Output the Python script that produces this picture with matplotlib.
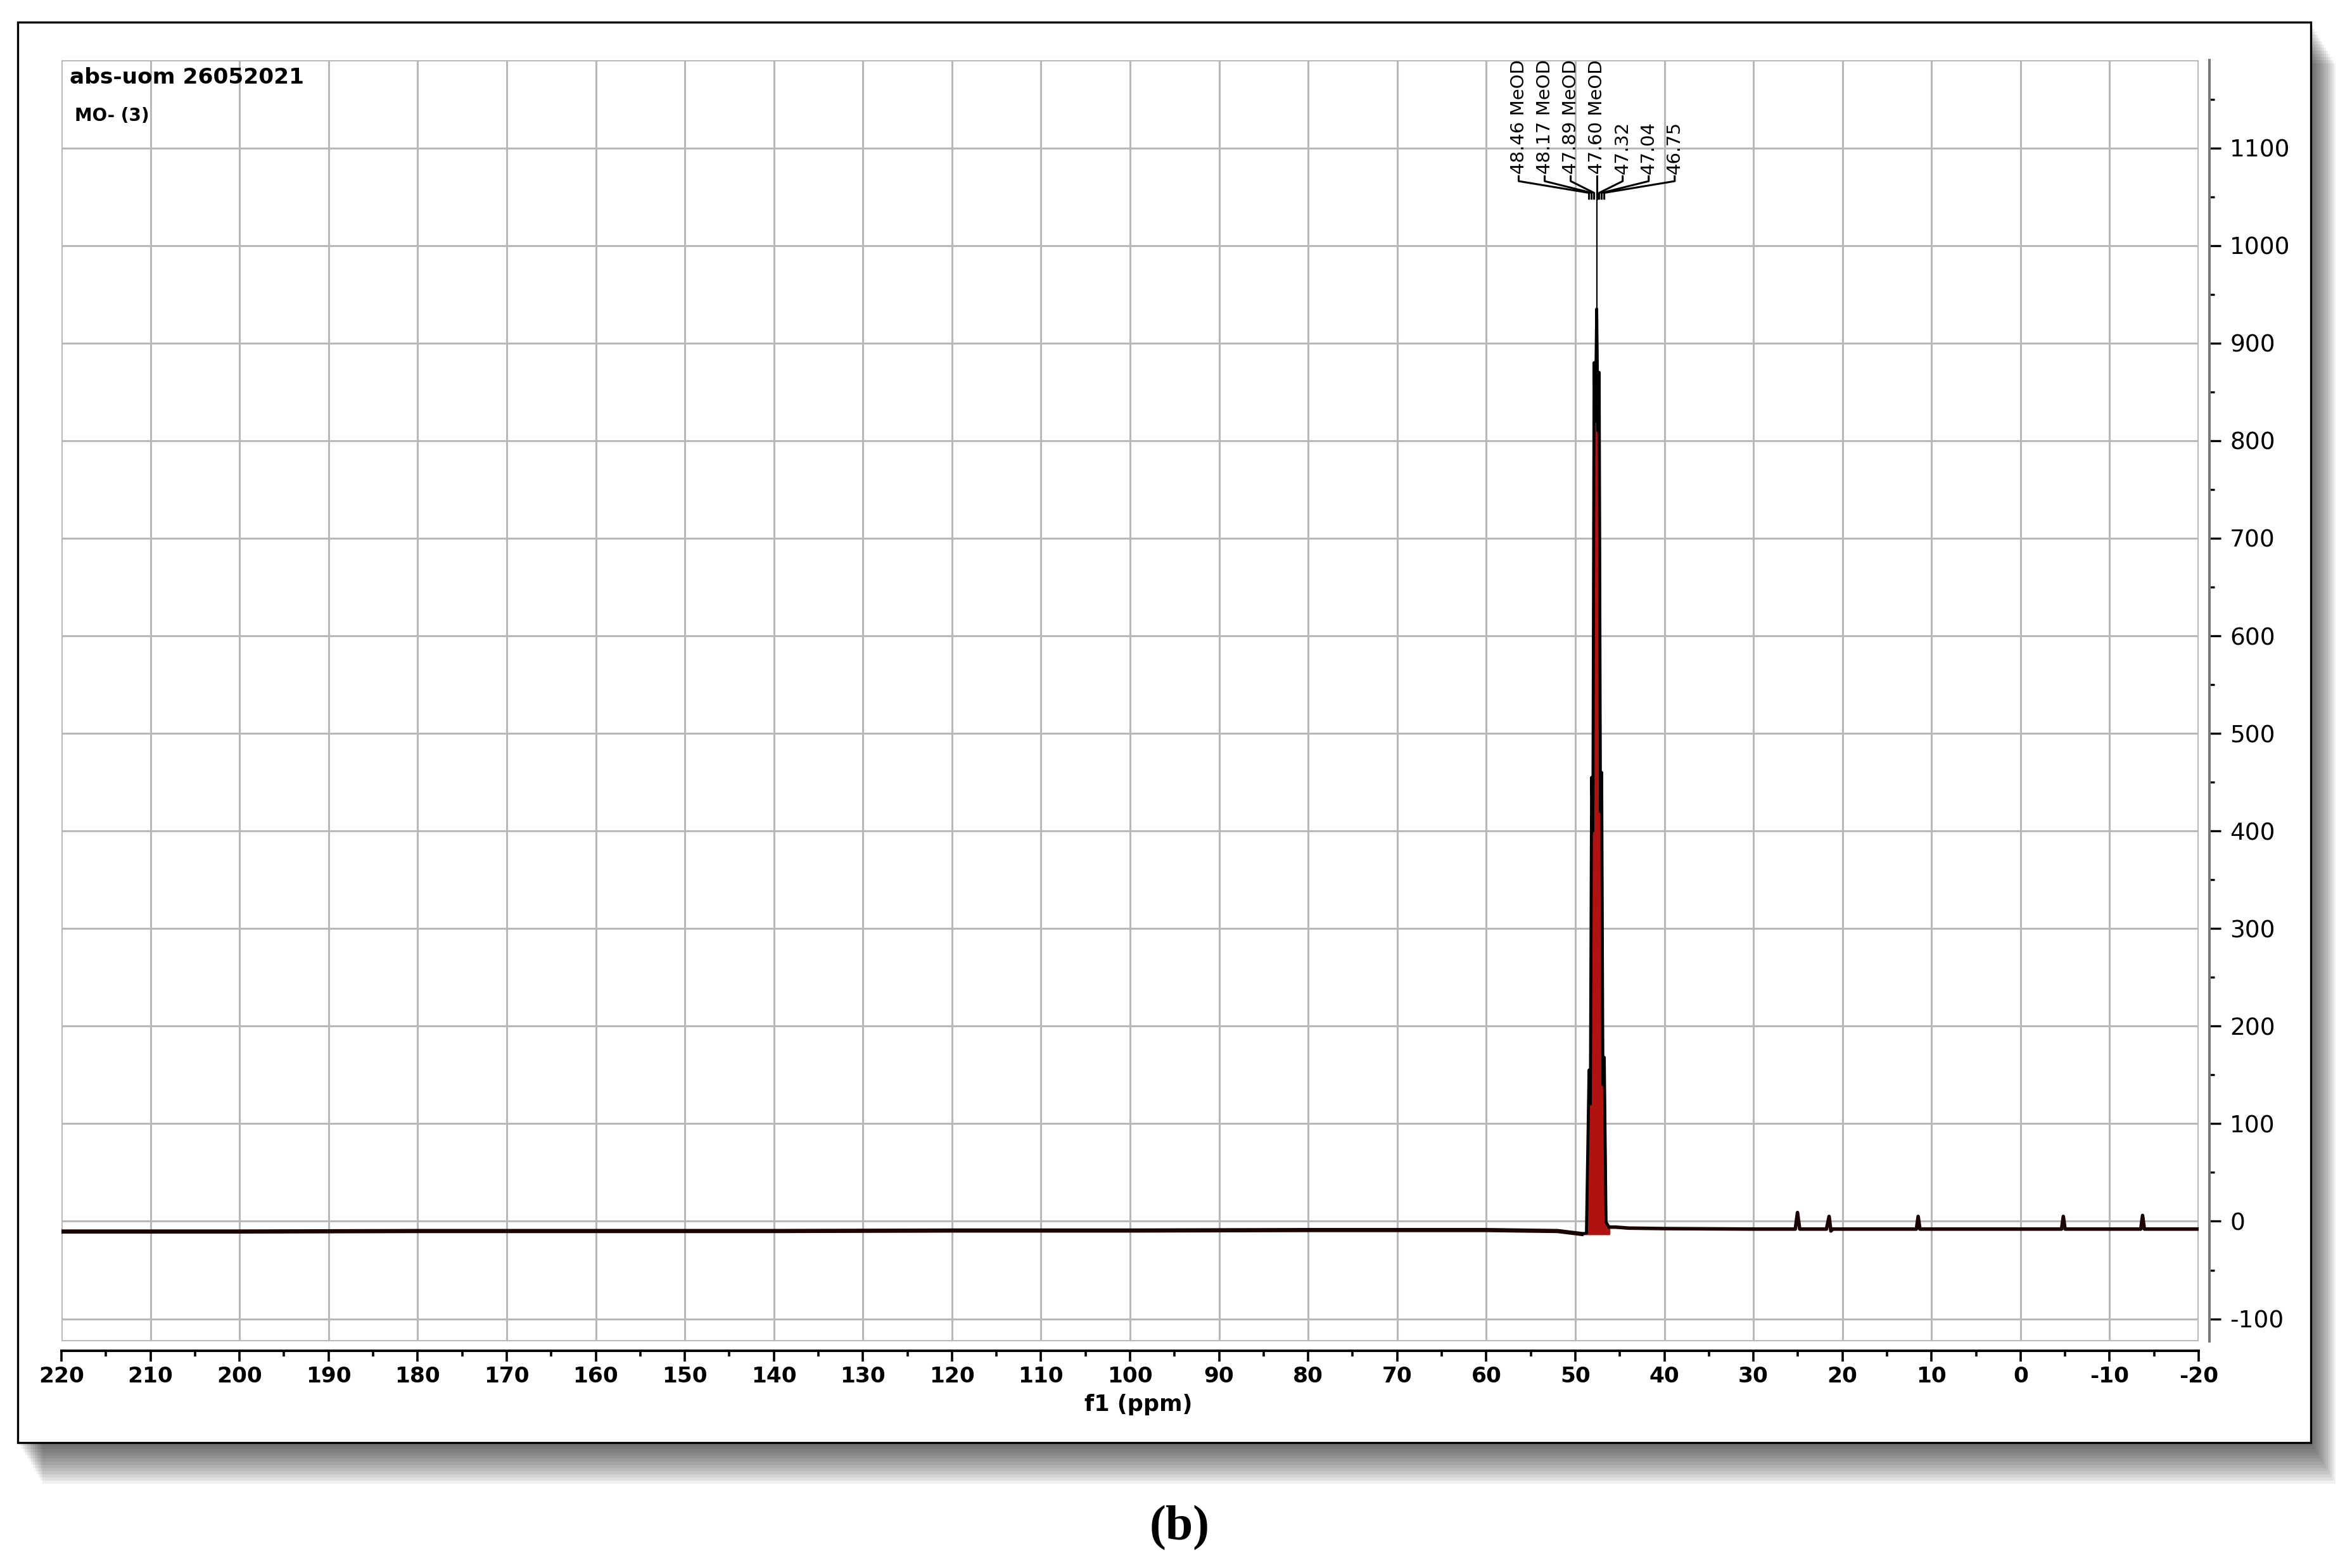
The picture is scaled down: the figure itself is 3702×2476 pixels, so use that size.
import matplotlib
matplotlib.use("Agg")
import matplotlib.pyplot as plt
from matplotlib.patches import Rectangle
from matplotlib.ticker import MultipleLocator
import numpy as np

##*Data*##
# baseline left of the solvent peak (ppm, intensity)
left_ppm = [220, 200, 180, 160, 140, 120, 100, 80, 60, 52, 49.3]
left_int = [-10.5, -10.5, -10, -10, -10, -9.5, -9.5, -9, -9, -10, -13]

# MeOD septet
peak_ppm = [49.2, 48.75, 48.46, 48.31, 48.17, 48.03, 47.89, 47.75, 47.60,
            47.46, 47.32, 47.18, 47.04, 46.90, 46.75, 46.55, 46.2]
peak_int = [-13, -12, 155, 120, 455, 400, 880, 820, 935,
            810, 870, 420, 460, 140, 168, -1, -6]

# baseline right of the solvent peak with the small peaks
right_ppm = [46.2, 45.5, 44, 40, 30, 25.3, 25.05, 24.8, 21.8, 21.5, 21.3, 21.1,
             11.7, 11.5, 11.3, -4.6, -4.8, -5.0, -13.5, -13.7, -13.9, -20]
right_int = [-6, -6, -7, -7.5, -8, -8, 9, -8, -8, 5, -10, -8,
             -8, 5, -8, -8, 5, -8, -8, 6, -8, -8]

# picked peaks
pick_ppm = [48.46, 48.17, 47.89, 47.60, 47.32, 47.04, 46.75]
pick_int = [155, 455, 880, 935, 870, 460, 168]
pick_txt = ["48.46 MeOD", "48.17 MeOD", "47.89 MeOD", "47.60 MeOD",
            "47.32", "47.04", "46.75"]

x_ticks = list(range(220, -21, -10))
y_ticks = list(range(-100, 1101, 100))

##**Figure**##
W, H = 3702, 2476
dpi = 200
fig = plt.figure(figsize=(W / dpi, H / dpi), dpi=dpi)
fig.patch.set_facecolor("white")

def px(x, y):
    return x / W, 1 - y / H

# frame with drop shadow
fx0, fy0 = 28, 35
fx1, fy1 = 3648, 2278
for k in range(1, 14):
    dx, dy = k * 3, k * 5
    r = Rectangle(px(fx0 + dx, fy1 + dy), (fx1 - fx0) / W, (fy1 - fy0) / H,
                  transform=fig.transFigure, facecolor="black", edgecolor="none",
                  alpha=0.06, zorder=-5)
    fig.add_artist(r)
frame = Rectangle(px(fx0, fy1), (fx1 - fx0) / W, (fy1 - fy0) / H,
                  transform=fig.transFigure, facecolor="white", edgecolor="black",
                  linewidth=1.2, zorder=-4)
fig.add_artist(frame)

ax = fig.add_axes([97 / W, 1 - 2118 / H, (3471 - 97) / W, (2118 - 95) / H])
ax.set_facecolor("white")
ax.set_xlim(220, -20)
ax.set_ylim(-123, 1190)

grid_c = "#b8b8b8"
ax.set_xticks(x_ticks)
ax.set_yticks(y_ticks)
ax.xaxis.set_minor_locator(MultipleLocator(5))
ax.yaxis.set_minor_locator(MultipleLocator(50))
ax.grid(True, which="major", color=grid_c, linewidth=1.1)
ax.set_axisbelow(True)
ax.add_patch(Rectangle((0, 0), 1, 1, transform=ax.transAxes, fill=False,
                       edgecolor=grid_c, linewidth=1.4, zorder=0.5))

for s in ["left", "top"]:
    ax.spines[s].set_visible(False)
ax.spines["bottom"].set_position(("outward", 5.4))
ax.spines["bottom"].set_color("black")
ax.spines["bottom"].set_linewidth(1.4)
ax.spines["right"].set_position(("outward", 6.2))
ax.spines["right"].set_color("#7a7a7a")
ax.spines["right"].set_linewidth(1.5)

ax.yaxis.tick_right()
ax.tick_params(axis="x", which="major", direction="out", length=6.1, width=1.3,
               pad=2.6, labelsize=12.4)
ax.tick_params(axis="x", which="minor", direction="out", length=3.4, width=1.3)
ax.tick_params(axis="y", which="major", direction="out", length=6.5, width=1.2,
               pad=5.0, labelsize=13.5, left=False, right=True)
ax.tick_params(axis="y", which="minor", direction="out", length=2.8, width=1.2,
               left=False, right=True)
ax.set_xticklabels([str(t) for t in x_ticks], fontweight="bold")
ax.set_yticklabels([str(t) for t in y_ticks])

# spectrum
line_c = "#1c0404"
ax.plot(left_ppm, left_int, color=line_c, linewidth=2.4, zorder=3)
ax.plot(right_ppm, right_int, color=line_c, linewidth=2.0, zorder=3)
ax.fill_between(peak_ppm, peak_int, min(peak_int), color="#b01212", zorder=3)
ax.plot(peak_ppm, peak_int, color="black", linewidth=1.7, zorder=4)

# peak labels with bracket
mid = pick_ppm[3]
step = 2.92
y_txt, y_stub, y_join = 1073, 1066, 1054
for i, (p, h, t) in enumerate(zip(pick_ppm, pick_int, pick_txt)):
    xl = mid + (3 - i) * step
    ax.text(xl, y_txt, t, rotation=90, ha="center", va="bottom",
            fontsize=10.5, color="black", zorder=6)
    ax.plot([xl, xl, p, p], [y_txt - 2, y_stub, y_join, y_join - 6],
            color="black", linewidth=1.1, zorder=5)
top = int(np.argmax(pick_int))
ax.plot([pick_ppm[top], pick_ppm[top]], [y_join, pick_int[top]],
        color="black", linewidth=0.8, zorder=5)

# texts
fig.text(110 / W, 1 - 122 / H, "abs-uom 26052021", fontsize=12.4,
         fontweight="bold", ha="left", va="center")
fig.text(118 / W, 1 - 183 / H, "MO- (3)", fontsize=10,
         fontweight="bold", ha="left", va="center")
fig.text(1797 / W, 1 - 2218 / H, "f1 (ppm)", fontsize=12.6,
         fontweight="bold", ha="center", va="center")
fig.text(1862 / W, 1 - 2413 / H, "(b)", fontsize=28, family="Liberation Serif",
         fontweight="bold", ha="center", va="center")

fig.savefig("out.png", dpi=dpi, facecolor="white")
